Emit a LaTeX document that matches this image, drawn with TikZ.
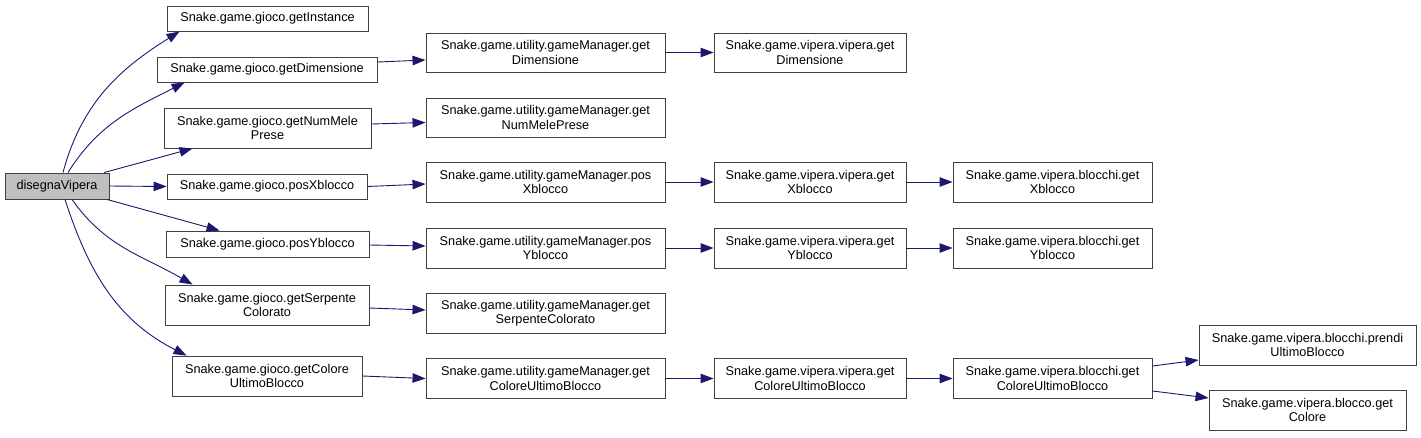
\documentclass[tikz,border=0pt]{standalone}
\usepackage{fontspec}
\setmainfont{Liberation Sans}
\usetikzlibrary{arrows.meta}
\definecolor{edgec}{HTML}{191970}
\definecolor{boxc}{HTML}{404040}
\definecolor{rootfill}{HTML}{BFBFBF}
\begin{document}
\begin{tikzpicture}[x=1pt,y=1pt,
  box/.style={draw=boxc, line width=0.9pt, fill=white, inner sep=0pt, align=center,
    font=\fontsize{12.7pt}{14.5pt}\selectfont},
  rootbox/.style={box, fill=rootfill},
  edge/.style={draw=edgec, line width=0.9pt, -{Triangle[length=13pt,width=9.5pt]}}]
\useasboundingbox (0,0) rectangle (1421,-437);
% column 0
\node[rootbox, minimum width=104pt, minimum height=26pt] (dv) at (57,-186) {disegnaVipera};
% column 1
\node[box, minimum width=201pt, minimum height=25pt] (gi) at (267.5,-18.5) {Snake.game.gioco.getInstance};
\node[box, minimum width=220pt, minimum height=25pt] (gd) at (267,-69.5) {Snake.game.gioco.getDimensione};
\node[box, minimum width=207pt, minimum height=40pt] (gn) at (267.5,-128) {Snake.game.gioco.getNumMele\\Prese};
\node[box, minimum width=200pt, minimum height=25pt] (gx) at (267,-186.5) {Snake.game.gioco.posXblocco};
\node[box, minimum width=203pt, minimum height=26pt] (gy) at (267.5,-244) {Snake.game.gioco.posYblocco};
\node[box, minimum width=204pt, minimum height=40pt] (gs) at (267,-305) {Snake.game.gioco.getSerpente\\Colorato};
\node[box, minimum width=190pt, minimum height=40pt] (gc) at (267,-376) {Snake.game.gioco.getColore\\UltimoBlocco};
% column 2
\node[box, minimum width=239pt, minimum height=39pt] (md) at (545.5,-52.5) {Snake.game.utility.gameManager.get\\Dimensione};
\node[box, minimum width=239pt, minimum height=39pt] (mn) at (545.5,-117.5) {Snake.game.utility.gameManager.get\\NumMelePrese};
\node[box, minimum width=239pt, minimum height=40pt] (mx) at (545.5,-182) {Snake.game.utility.gameManager.pos\\Xblocco};
\node[box, minimum width=239pt, minimum height=40pt] (my) at (545.5,-248) {Snake.game.utility.gameManager.pos\\Yblocco};
\node[box, minimum width=239pt, minimum height=40pt] (ms) at (545.5,-313) {Snake.game.utility.gameManager.get\\SerpenteColorato};
\node[box, minimum width=239pt, minimum height=40pt] (mc) at (545.5,-378.5) {Snake.game.utility.gameManager.get\\ColoreUltimoBlocco};
% column 3
\node[box, minimum width=192pt, minimum height=39pt] (vd) at (810,-52.5) {Snake.game.vipera.vipera.get\\Dimensione};
\node[box, minimum width=192pt, minimum height=40pt] (vx) at (810,-182) {Snake.game.vipera.vipera.get\\Xblocco};
\node[box, minimum width=192pt, minimum height=40pt] (vy) at (810,-248) {Snake.game.vipera.vipera.get\\Yblocco};
\node[box, minimum width=192pt, minimum height=40pt] (vc) at (810,-378.5) {Snake.game.vipera.vipera.get\\ColoreUltimoBlocco};
% column 4
\node[box, minimum width=199pt, minimum height=40pt] (bx) at (1052.5,-182) {Snake.game.vipera.blocchi.get\\Xblocco};
\node[box, minimum width=199pt, minimum height=40pt] (by) at (1052.5,-248) {Snake.game.vipera.blocchi.get\\Yblocco};
\node[box, minimum width=199pt, minimum height=40pt] (bc) at (1052.5,-378.5) {Snake.game.vipera.blocchi.get\\ColoreUltimoBlocco};
% column 5
\node[box, minimum width=217pt, minimum height=40pt] (pu) at (1307.5,-345) {Snake.game.vipera.blocchi.prendi\\UltimoBlocco};
\node[box, minimum width=197pt, minimum height=40pt] (co) at (1307.5,-410) {Snake.game.vipera.blocco.get\\Colore};
% edges from root
\draw[edge] ([xshift=6pt]dv.north) to[out=75, in=-148] ([xshift=13pt]gi.south west);
\draw[edge] ([xshift=11pt]dv.north) to[out=58, in=-153] ([xshift=28pt]gd.south west);
\draw[edge] ([xshift=47pt]dv.north) -- ([xshift=29pt]gn.south west);
\draw[edge] (dv.east) -- (gx.west);
\draw[edge] ([xshift=50pt]dv.south) -- ([xshift=54pt]gy.north west);
\draw[edge] ([xshift=15pt]dv.south) to[out=-55, in=150] ([xshift=28pt]gs.north west);
\draw[edge] ([xshift=8pt]dv.south) to[out=-72, in=153] ([xshift=15pt]gc.north west);
% column 1 -> 2
\draw[edge] ([yshift=7.5pt]gd.east) -- ([yshift=-7.5pt]md.west);
\draw[edge] ([yshift=4pt]gn.east) -- ([yshift=-5pt]mn.west);
\draw[edge] (gx.east) -- ([yshift=-2pt]mx.west);
\draw[edge] ([yshift=-1pt]gy.east) -- ([yshift=2pt]my.west);
\draw[edge] ([yshift=-3pt]gs.east) -- ([yshift=3pt]ms.west);
\draw[edge] (gc.east) -- (mc.west);
% column 2 -> 3
\draw[edge] (md.east) -- (vd.west);
\draw[edge] (mx.east) -- (vx.west);
\draw[edge] (my.east) -- (vy.west);
\draw[edge] (mc.east) -- (vc.west);
% column 3 -> 4
\draw[edge] (vx.east) -- (bx.west);
\draw[edge] (vy.east) -- (by.west);
\draw[edge] (vc.east) -- (bc.west);
% column 4 -> 5
\draw[edge] ([yshift=12.5pt]bc.east) -- ([yshift=-15pt]pu.west);
\draw[edge] ([yshift=-12.5pt]bc.east) -- ([yshift=12pt]co.west);
\end{tikzpicture}
\end{document}
